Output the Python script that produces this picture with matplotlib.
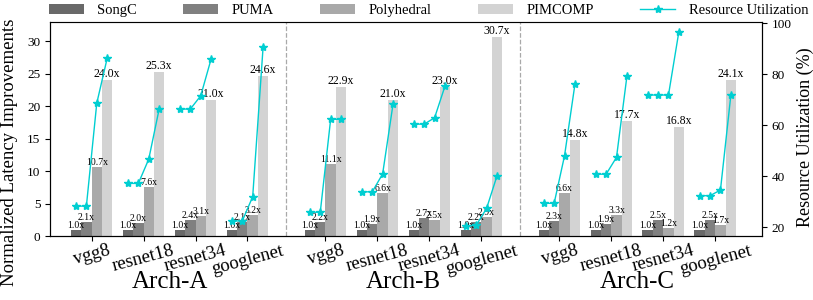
import matplotlib
matplotlib.use("Agg")
import matplotlib.pyplot as plt
import matplotlib.transforms as mtransforms
import numpy as np

plt.rcParams['font.family'] = 'serif'
plt.rcParams['font.serif'] = ['Liberation Serif', 'DejaVu Serif']

ARCHS = ["Arch-A", "Arch-B", "Arch-C"]
NETS = ["vgg8", "resnet18", "resnet34", "googlenet"]
METHODS = ["SongC", "PUMA", "Polyhedral", "PIMCOMP"]
COLORS = ["dimgray", "gray", "darkgray", "lightgray"]

# speedup per method, 12 groups (arch x net)
songc = [1.0, 1.0, 1.0, 1.0,  1.0, 1.0, 1.0, 1.0,  1.0, 1.0, 1.0, 1.0]
puma = [2.1, 2.0, 2.4, 2.1,  2.2, 1.9, 2.7, 2.2,  2.3, 1.9, 2.5, 2.5]
poly = [10.7, 7.6, 3.1, 3.2,  11.1, 6.6, 2.5, 2.9,  6.6, 3.3, 1.2, 1.7]
pimcomp = [24.0, 25.3, 21.0, 24.6,  22.9, 21.0, 23.0, 30.7,  14.8, 17.7, 16.8, 24.1]

# resource utilization (%) for the 4 methods, per group
util = [
    [28.3, 28.3, 68.6, 86.2], [37.2, 37.2, 46.7, 66.3], [66.3, 66.3, 71.5, 85.9], [22.5, 22.5, 32.0, 90.5],
    [25.9, 25.9, 62.3, 62.3], [33.9, 33.9, 40.9, 68.2], [60.4, 60.4, 62.9, 75.3], [20.5, 20.8, 27.4, 40.1],
    [29.4, 29.4, 48.0, 76.0], [40.8, 40.8, 47.4, 79.1], [71.8, 71.8, 71.8, 96.6], [32.4, 32.4, 34.6, 71.7],
]

series = [songc, puma, poly, pimcomp]
centers = np.array([a * 4.5 + i for a in range(3) for i in range(4)])
w = 0.2
offsets = [-0.3, -0.1, 0.1, 0.3]

fig = plt.figure(figsize=(8.13, 3.0), dpi=100)
ax = fig.add_axes([0.0615, 0.2133, 0.8758, 0.7134])
ax2 = ax.twinx()

for k, vals in enumerate(series):
    ax.bar(centers + offsets[k], vals, width=w, color=COLORS[k], label=METHODS[k], zorder=2)
    for x, v in zip(centers + offsets[k], vals):
        fs = 8.5 if k == 3 else 7
        ax.text(x, v, "%.1fx" % v, ha='center', va='bottom', fontsize=fs, zorder=3)

for g, c in enumerate(centers):
    ln, = ax2.plot(c + np.array(offsets), util[g], color='darkturquoise', marker='*',
                   markersize=6, linewidth=1)
ln.set_label("Resource Utilization")

for d in [3.75, 8.25]:
    ax.axvline(d, color='darkgray', linestyle='--', linewidth=0.9)

ax.set_xlim(-0.8, 12.9)
ax.set_ylim(0, 33)
ax2.set_ylim(16.6, 100.4)
ax.set_yticks(np.arange(0, 31, 5))
ax2.set_yticks([20, 40, 60, 80, 100])
ax.tick_params(axis='y', labelsize=9.5)
ax2.tick_params(axis='y', labelsize=9.5)
ax.set_xticks(centers)
ax.set_xticklabels(NETS * 3, rotation=15, fontsize=13.5)
ax.tick_params(axis='x', pad=1)
ax.set_ylabel("Normalized Latency Improvements", fontsize=13.5)
ax.yaxis.set_label_coords(-0.045, 0.39)
ax2.set_ylabel("Resource Utilization (%)", fontsize=13)
ax2.yaxis.set_label_coords(1.048, 0.46)
ax.spines['top'].set_color('gray')

trans = mtransforms.blended_transform_factory(ax.transData, fig.transFigure)
for a, name in enumerate(ARCHS):
    ax.text(a * 4.5 + 1.5, 0.025, name, transform=trans, ha='center', va='bottom', fontsize=18)

h1, l1 = ax.get_legend_handles_labels()
h2, l2 = ax2.get_legend_handles_labels()
fig.legend(h1 + h2, l1 + l2, ncol=5, loc='upper center', bbox_to_anchor=(0.527, 1.03),
           frameon=False, fontsize=10.5, columnspacing=3.2, handlelength=2.4,
           handletextpad=0.9)

fig.savefig("out.png", dpi=100)
